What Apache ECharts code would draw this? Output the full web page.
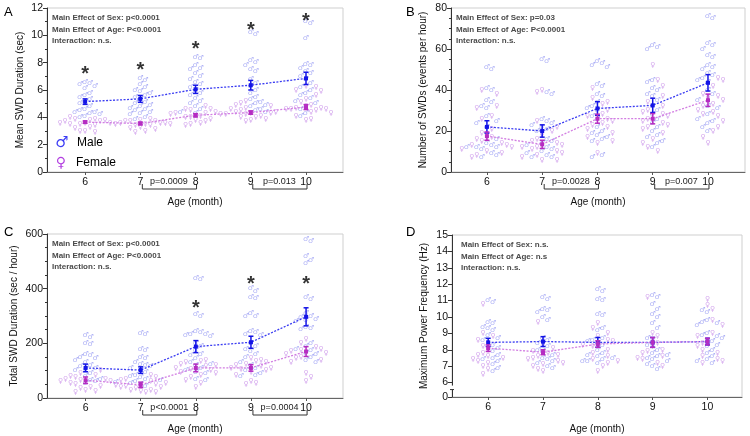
<!DOCTYPE html>
<html><head><meta charset="utf-8">
<script src="https://cdn.jsdelivr.net/npm/echarts@6/dist/echarts.min.js"></script>
<style>html,body{margin:0;padding:0;background:#fff}#c{width:750px;height:436px}</style>
</head><body><div id="c"></div>
<script>
const ages = [6, 7, 8, 9, 10];
const xLabel = 'Age (month)';

// ---------- Panel A: Mean SWD Duration ----------
const A_name = 'Mean SWD Duration (sec)';
const A_stats = ['Main Effect of Sex: p<0.0001', 'Main Effect of Age: P<0.0001', 'Interaction: n.s.'];
const A_maleMean = [5.15, 5.35, 6.05, 6.35, 6.85];
const A_maleSem = [0.2, 0.25, 0.3, 0.35, 0.45];
const A_femMean = [3.65, 3.55, 4.15, 4.35, 4.75];
const A_femSem = [0.08, 0.1, 0.12, 0.12, 0.18];
const A_malePts = [
  [6.6, 6.5, 6.4, 6.3, 6.1, 5.8, 5.6, 5.5, 5.3, 5.1, 5.0, 4.8, 4.6, 4.5, 4.4, 4.3, 4.2, 4.4, 4.1, 4.0],
  [6.9, 6.7, 6.4, 6.2, 6.0, 5.9, 5.8, 5.6, 5.5, 5.3, 5.1, 5.0, 4.9, 4.8, 4.7, 4.6, 4.5, 4.4, 4.3, 4.2, 4.0, 3.9],
  [8.4, 8.3, 7.8, 7.6, 7.5, 7.2, 7.0, 6.8, 6.6, 6.4, 6.2, 6.0, 5.8, 5.6, 5.4, 5.2, 5.0, 4.8, 4.6, 4.4, 4.3],
  [10.2, 10.1, 8.2, 8.0, 7.8, 7.5, 7.4, 6.8, 6.5, 6.3, 6.0, 5.8, 5.5, 5.3, 5.1, 5.0, 4.9, 4.8, 4.6, 4.5, 4.4],
  [11.0, 10.9, 9.8, 7.9, 7.8, 7.6, 7.4, 7.2, 7.0, 6.8, 6.5, 6.2, 6.0, 5.8, 5.6, 5.4, 5.2, 5.0, 4.6, 4.3, 4.1]
];
const A_femPts = [
  [4.0, 3.9, 3.8, 3.7, 3.7, 3.6, 3.6, 3.5, 3.5, 3.4, 3.3, 3.2, 3.0, 3.0, 2.9, 3.8, 3.6, 3.9],
  [3.9, 3.8, 3.7, 3.7, 3.6, 3.6, 3.5, 3.5, 3.4, 3.4, 3.3, 3.2, 3.1, 3.0, 2.9, 3.6, 3.7, 3.5],
  [4.8, 4.6, 4.5, 4.4, 4.3, 4.2, 4.2, 4.1, 4.0, 4.0, 3.9, 3.8, 3.7, 3.6, 3.5, 3.4, 4.3, 4.6],
  [5.2, 5.0, 4.9, 4.8, 4.7, 4.6, 4.5, 4.4, 4.3, 4.2, 4.2, 4.1, 4.0, 4.0, 3.9, 3.8, 3.7, 4.3, 4.4],
  [6.3, 6.2, 6.0, 5.9, 5.6, 5.3, 5.1, 4.9, 4.8, 4.7, 4.6, 4.6, 4.5, 4.4, 4.3, 4.1, 3.9, 3.8, 4.7, 4.6]
];
const A_sigAges = [6, 7, 8, 9, 10];
const A_sigY = [7.5, 7.8, 9.3, 10.7, 11.4];
const A_brackets = [[7, 8, 'p=0.0009'], [9, 10, 'p=0.013']];

// ---------- Panel B: Number of SWDs ----------
const B_name = 'Number of SWDs (events per hour)';
const B_stats = ['Main Effect of Sex: p=0.03', 'Main Effect of Age: P<0.0001', 'Interaction: n.s.'];
const B_maleMean = [22, 20, 31, 32.5, 43.5];
const B_maleSem = [3, 3, 3.3, 3.5, 4];
const B_femMean = [17.5, 13.5, 26, 26, 35];
const B_femSem = [2, 2, 2.2, 2.5, 3];
const B_malePts = [
  [51, 50, 41, 40, 35, 34, 32, 31, 27, 25, 24, 22, 16, 14, 13, 12, 12, 12, 11, 9, 8, 7],
  [55, 54, 39, 38, 26, 25, 24, 23, 22, 21, 20, 16, 15, 14, 13, 12, 11, 10, 9, 8, 7, 7],
  [54, 53, 52, 51, 43, 42, 38, 37, 34, 32, 31, 30, 27, 26, 22, 20, 19, 18, 17, 16, 15, 8, 7],
  [62, 61, 60, 45, 44, 41, 40, 38, 37, 35, 32, 30, 28, 26, 24, 22, 20, 18, 17, 15, 14, 12],
  [76, 75, 63, 62, 60, 57, 56, 52, 51, 50, 48, 47, 46, 45, 44, 40, 38, 35, 32, 31, 28, 26, 25, 24, 22, 20]
];
const B_femPts = [
  [40, 38, 32, 31, 27, 26, 21, 19, 18, 17, 16, 15, 14, 13, 13, 12, 11, 10, 9, 8, 7],
  [40, 39, 25, 22, 20, 18, 16, 15, 14, 13, 12, 12, 11, 10, 9, 8, 7, 6, 6],
  [41, 36, 34, 33, 30, 28, 27, 26, 25, 24, 23, 22, 21, 19, 17, 15, 14, 9],
  [52, 45, 42, 37, 34, 32, 30, 29, 28, 27, 26, 25, 24, 23, 22, 21, 19, 16, 14, 12, 10],
  [46, 45, 42, 38, 37, 36, 35, 33, 32, 30, 29, 28, 27, 25, 22, 20, 17, 14]
];
const B_sigAges = [];
const B_sigY = [];
const B_brackets = [[7, 8, 'p=0.0028'], [9, 10, 'p=0.007']];

// ---------- Panel C: Total SWD Duration ----------
const C_name = 'Total SWD Duration (sec / hour)';
const C_stats = ['Main Effect of Sex: p<0.0001', 'Main Effect of Age: P<0.0001', 'Interaction: n.s.'];
const C_maleMean = [110, 102, 188, 204, 297];
const C_maleSem = [14, 12, 22, 22, 33];
const C_femMean = [65, 48, 110, 110, 170];
const C_femSem = [12, 10, 14, 12, 18];
const C_malePts = [
  [228, 222, 200, 196, 160, 155, 150, 145, 140, 130, 120, 115, 110, 105, 100, 90, 80, 70, 65, 60, 58, 55],
  [238, 232, 180, 175, 150, 145, 130, 125, 120, 115, 110, 100, 95, 85, 80, 75, 70, 65, 60, 55, 50, 45],
  [440, 435, 305, 300, 245, 240, 235, 232, 230, 225, 200, 190, 175, 160, 155, 145, 130, 125, 120, 110, 100, 95, 90, 70, 65],
  [400, 390, 370, 365, 310, 300, 298, 245, 240, 235, 230, 200, 190, 180, 170, 160, 150, 130, 120, 110, 100, 90, 85, 80],
  [580, 575, 520, 505, 495, 370, 360, 310, 300, 295, 290, 285, 280, 260, 255, 250, 200, 190, 180, 175, 165, 160, 150, 140, 130]
];
const C_femPts = [
  [100, 90, 85, 80, 75, 70, 68, 65, 62, 60, 55, 50, 45, 40, 35, 30, 25, 22],
  [85, 75, 70, 65, 60, 55, 50, 48, 45, 40, 38, 35, 30, 28, 25, 22, 20],
  [140, 135, 130, 125, 120, 115, 110, 105, 100, 95, 90, 85, 75, 65, 55, 40],
  [145, 140, 135, 130, 125, 120, 115, 110, 108, 105, 100, 95, 85, 60, 55, 50],
  [215, 200, 185, 180, 175, 170, 165, 160, 150, 145, 140, 130, 90, 75, 60]
];
const C_sigAges = [8, 9, 10];
const C_sigY = [344, 432, 432];
const C_brackets = [[7, 8, 'p<0.0001'], [9, 10, 'p=0.0004']];

// ---------- Panel D: Maximum Power Frequency ----------
const D_name = 'Maximum Power Frequency (Hz)';
const D_stats = ['Main Effect of Sex: n.s.', 'Main Effect of Age: n.s', 'Interaction: n.s.'];
const D_maleMean = [8.45, 8.5, 8.45, 8.45, 8.5];
const D_maleSem = [0.25, 0.3, 0.3, 0.3, 0.2];
const D_femMean = [8.1, 7.85, 8.35, 8.45, 8.5];
const D_femSem = [0.2, 0.15, 0.2, 0.3, 0.2];
const D_malePts = [
  [11.0, 10.9, 9.7, 9.6, 9.4, 9.3, 9.2, 8.9, 8.7, 8.6, 8.3, 8.1, 7.9, 7.7, 7.5, 7.4, 7.3, 7.1, 6.9, 6.7],
  [11.2, 11.1, 10.5, 10.4, 10.3, 10.0, 9.8, 8.7, 8.6, 8.4, 8.2, 8.0, 7.9, 7.7, 7.5, 7.4, 7.3, 7.2, 7.0, 6.9],
  [11.7, 11.6, 11.1, 11.0, 10.2, 10.1, 9.3, 9.2, 8.7, 8.6, 8.5, 8.4, 8.3, 8.0, 7.8, 7.7, 7.6, 7.5, 7.4, 7.3, 7.2, 7.3],
  [11.3, 11.2, 10.8, 10.5, 10.2, 10.0, 9.6, 9.3, 8.7, 8.3, 8.0, 7.8, 7.7, 7.6, 7.5, 7.4, 7.3, 7.1, 7.0, 6.8],
  [10.4, 10.3, 9.8, 9.7, 9.6, 9.5, 9.0, 8.9, 8.8, 8.7, 8.5, 8.3, 8.2, 8.0, 7.8, 7.6, 7.4, 7.3, 7.2]
];
const D_femPts = [
  [10.8, 9.0, 8.8, 8.6, 8.4, 8.2, 8.0, 7.8, 7.7, 7.6, 7.5, 7.4, 7.3, 7.2, 7.0, 6.8, 6.5],
  [9.7, 8.3, 8.1, 7.9, 7.8, 7.7, 7.6, 7.5, 7.4, 7.3, 7.2, 7.1, 7.0, 6.8, 6.7],
  [9.6, 9.3, 9.0, 8.8, 8.6, 8.5, 8.3, 8.2, 8.0, 7.8, 7.6, 7.4, 7.3, 7.2, 7.0, 6.7],
  [11.2, 9.0, 8.8, 8.6, 8.4, 8.2, 8.0, 7.9, 7.8, 7.6, 7.5, 7.4, 7.2, 7.0],
  [11.1, 10.7, 10.5, 9.8, 9.5, 9.0, 8.8, 8.6, 8.4, 8.2, 8.0, 7.8, 7.6, 7.4, 7.3, 7.2]
];
const D_sigAges = [];
const D_sigY = [];
const D_brackets = [];
const D_yLabels = [0, 6, 7, 8, 9, 10, 11, 12, 13, 14, 15];

// ---------- styling ----------
const MALE_PT = '#9599f2', FEM_PT = '#cb94ea';
const MALE_LINE = '#3a3cf2', FEM_LINE = '#d27ee2';
const MALE_ERR = '#1414e6', FEM_ERR = '#b52cc2';
const FONT = 'Liberation Sans, Arial, Helvetica, sans-serif';

const panels = [
  {letter: 'A', lx: 4, ly: 6, grid: {left: 47, top: 8, width: 296, height: 164}, xMin: 5.31, xMax: 10.67, yMin: 0, yMax: 12, yInt: 2, minor: 2, yGap: 22,
   name: A_name, stats: A_stats, mm: A_maleMean, ms: A_maleSem, fm: A_femMean, fs: A_femSem, mp: A_malePts, fp: A_femPts, sa: A_sigAges, sy: A_sigY, br: A_brackets, xGap: 25},
  {letter: 'B', lx: 406, ly: 6, grid: {left: 451, top: 8, width: 294, height: 164}, xMin: 5.35, xMax: 10.67, yMin: 0, yMax: 80, yInt: 20, minor: 4, yGap: 23,
   name: B_name, stats: B_stats, mm: B_maleMean, ms: B_maleSem, fm: B_femMean, fs: B_femSem, mp: B_malePts, fp: B_femPts, sa: B_sigAges, sy: B_sigY, br: B_brackets, xGap: 25},
  {letter: 'C', lx: 4, ly: 226, grid: {left: 47, top: 234, width: 296, height: 164}, xMin: 5.3, xMax: 10.67, yMin: 0, yMax: 600, yInt: 200, minor: 4, yGap: 28,
   name: C_name, stats: C_stats, mm: C_maleMean, ms: C_maleSem, fm: C_femMean, fs: C_femSem, mp: C_malePts, fp: C_femPts, sa: C_sigAges, sy: C_sigY, br: C_brackets, xGap: 26},
  {letter: 'D', lx: 406, ly: 226, grid: {left: 452, top: 235, width: 290, height: 162}, xMin: 5.34, xMax: 10.63, yMin: 5.12, yMax: 15, yInt: null, minor: 0, yGap: 23,
   name: D_name, stats: D_stats, mm: D_maleMean, ms: D_maleSem, fm: D_femMean, fs: D_femSem, mp: D_malePts, fp: D_femPts, sa: D_sigAges, sy: D_sigY, br: D_brackets, xGap: 27}
];

// beeswarm placement of individual animals around each age
function swarm(p) {
  const pxX = p.grid.width / (p.xMax - p.xMin);
  const pxY = p.grid.height / (p.yMax - p.yMin);
  const CW = 5, CH = 6.5;
  const m = [], f = [];
  ages.forEach((a, i) => {
    const items = p.mp[i].map(v => ({v, s: 0})).concat(p.fp[i].map(v => ({v, s: 1})));
    items.sort((q, r) => r.v - q.v);
    const placed = [];
    items.forEach(it => {
      const y = it.v * pxY;
      let off = 0;
      for (let k = 0; k < 60; k++) {
        off = k === 0 ? 0 : (k % 2 ? 1 : -1) * Math.ceil(k / 2) * CW;
        if (!placed.some(q => Math.abs(q.x - off) < CW * 0.99 && Math.abs(q.y - y) < CH)) break;
      }
      placed.push({x: off, y});
      (it.s ? f : m).push([a + off / pxX, it.v]);
    });
  });
  return {m, f};
}

function errRender(color) {
  return function (params, api) {
    const x = api.value(0), mean = api.value(1), s = api.value(2);
    const t = api.coord([x, mean + s]), b = api.coord([x, mean - s]), c = api.coord([x, mean]);
    const w = 2.5;
    const st = {stroke: color, lineWidth: 1.5};
    return {type: 'group', children: [
      {type: 'line', shape: {x1: t[0], y1: t[1], x2: b[0], y2: b[1]}, style: st},
      {type: 'line', shape: {x1: t[0] - w, y1: t[1], x2: t[0] + w, y2: t[1]}, style: st},
      {type: 'line', shape: {x1: b[0] - w, y1: b[1], x2: b[0] + w, y2: b[1]}, style: st},
      {type: 'rect', shape: {x: c[0] - 2, y: c[1] - 2, width: 4, height: 4}, style: {fill: color}}
    ]};
  };
}

const grids = [], xAxes = [], yAxes = [], series = [];
panels.forEach((p, i) => {
  grids.push(Object.assign({show: true, borderColor: '#cfcfcf', borderWidth: 1, backgroundColor: 'transparent'}, p.grid));
  xAxes.push({
    type: 'value', gridIndex: i, min: p.xMin, max: p.xMax,
    axisLine: {show: true, onZero: false, lineStyle: {color: '#666', width: 1}},
    axisTick: {show: true, customValues: ages, length: 3, lineStyle: {color: '#555'}},
    axisLabel: {customValues: ages, color: '#111', fontSize: 10.5, fontFamily: FONT, margin: 5},
    splitLine: {show: false},
    name: xLabel, nameLocation: 'middle', nameGap: p.xGap,
    nameTextStyle: {fontSize: 10, color: '#111', fontFamily: FONT}
  });
  const y = {
    type: 'value', gridIndex: i, min: p.yMin, max: p.yMax,
    axisLine: {show: true, onZero: false, lineStyle: {color: '#333', width: 1}},
    axisTick: {show: true, length: 4, lineStyle: {color: '#333'}},
    axisLabel: {color: '#111', fontSize: 10.5, fontFamily: FONT, margin: 4},
    splitLine: {show: false},
    name: p.name, nameLocation: 'middle', nameGap: p.yGap,
    nameTextStyle: {fontSize: 10, color: '#111', fontFamily: FONT}
  };
  if (p.yInt) {
    y.interval = p.yInt;
    y.minorTick = {show: true, splitNumber: p.minor, length: 2, lineStyle: {color: '#333'}};
  } else {
    const vals = D_yLabels.map(v => v === 0 ? p.yMin : v);
    y.axisLabel.customValues = vals;
    y.axisTick.customValues = vals;
    y.axisLabel.formatter = v => (v < 5.5 ? '0' : String(Math.round(v)));
  }
  yAxes.push(y);

  const sw = swarm(p);
  const ptLabel = (txt, col) => ({show: true, position: 'inside', formatter: txt, color: col, fontSize: 7, fontFamily: 'DejaVu Sans'});
  series.push({type: 'scatter', xAxisIndex: i, yAxisIndex: i, data: sw.m, symbolSize: 2, itemStyle: {color: 'rgba(0,0,0,0)'}, label: ptLabel('♂', MALE_PT), z: 2, silent: true});
  series.push({type: 'scatter', xAxisIndex: i, yAxisIndex: i, data: sw.f, symbolSize: 2, itemStyle: {color: 'rgba(0,0,0,0)'}, label: ptLabel('♀', FEM_PT), z: 2, silent: true});
  series.push({type: 'line', xAxisIndex: i, yAxisIndex: i, data: ages.map((a, j) => [a, p.mm[j]]), symbol: 'none', lineStyle: {color: MALE_LINE, width: 1.3, type: [2, 1.5]}, z: 3});
  series.push({type: 'line', xAxisIndex: i, yAxisIndex: i, data: ages.map((a, j) => [a, p.fm[j]]), symbol: 'none', lineStyle: {color: FEM_LINE, width: 1.3, type: [2, 1.5]}, z: 3});
  series.push({type: 'custom', xAxisIndex: i, yAxisIndex: i, data: ages.map((a, j) => [a, p.mm[j], p.ms[j]]), renderItem: errRender(MALE_ERR), encode: {x: 0, y: 1}, z: 5});
  series.push({type: 'custom', xAxisIndex: i, yAxisIndex: i, data: ages.map((a, j) => [a, p.fm[j], p.fs[j]]), renderItem: errRender(FEM_ERR), encode: {x: 0, y: 1}, z: 5});
  if (p.sa.length) {
    series.push({type: 'scatter', xAxisIndex: i, yAxisIndex: i, data: p.sa.map((a, j) => [a, p.sy[j]]), symbolSize: 2, itemStyle: {color: 'rgba(0,0,0,0)'},
      label: {show: true, position: 'inside', formatter: '*', color: '#000', fontSize: 20, fontWeight: 'bold', fontFamily: FONT, offset: [0, 5]}, z: 6, silent: true});
  }
});

const chart = echarts.init(document.getElementById('c'));
chart.setOption({animation: false, backgroundColor: '#fff', grid: grids, xAxis: xAxes, yAxis: yAxes, series});

// annotations positioned through the axes
const g = [];
panels.forEach((p, i) => {
  g.push({type: 'text', left: p.lx, top: p.ly, style: {text: p.letter, font: '13px ' + FONT, fill: '#000'}});
  p.stats.forEach((s, k) => {
    g.push({type: 'text', x: p.grid.left + (i === 3 ? 9 : 5), y: p.grid.top + 6 + k * 11.3,
      style: {text: s, font: 'bold 8px ' + FONT, fill: '#4a4a4a'}});
  });
  const bottom = p.grid.top + p.grid.height;
  p.br.forEach(b => {
    const x1 = chart.convertToPixel({gridIndex: i}, [b[0], p.yMin])[0];
    const x2 = chart.convertToPixel({gridIndex: i}, [b[1], p.yMin])[0];
    const yb = bottom + 17;
    const st = {stroke: '#333', lineWidth: 1};
    g.push({type: 'polyline', shape: {points: [[x1 + 2, yb - 5], [x1 + 2, yb], [x2 + 1, yb], [x2 + 1, yb - 5]]}, style: Object.assign({fill: null}, st)});
    g.push({type: 'text', x: (x1 + x2) / 2 + 1, y: bottom + 10, style: {text: b[2], font: '9px ' + FONT, fill: '#222', align: 'center', verticalAlign: 'middle'}});
  });
});
// legend in panel A
g.push({type: 'text', x: 62, y: 143, style: {text: '♂', font: '15px DejaVu Sans', fill: '#3d3df5', align: 'center', verticalAlign: 'middle'}});
g.push({type: 'text', x: 77, y: 143, style: {text: 'Male', font: '12px ' + FONT, fill: '#000', verticalAlign: 'middle'}});
g.push({type: 'text', x: 61, y: 163, style: {text: '♀', font: '14px DejaVu Sans', fill: '#b23fe0', align: 'center', verticalAlign: 'middle'}});
g.push({type: 'text', x: 76, y: 163, style: {text: 'Female', font: '12px ' + FONT, fill: '#000', verticalAlign: 'middle'}});
// axis break mark on panel D
const dAx = panels[3].grid.left;
const y6 = chart.convertToPixel({gridIndex: 3}, [6, 6])[1];
g.push({type: 'rect', shape: {x: dAx - 2, y: y6 + 3, width: 4, height: 4}, style: {fill: '#fff'}, z: 100});
g.push({type: 'line', shape: {x1: dAx - 2, y1: y6 + 7, x2: dAx + 2, y2: y6 + 7}, style: {stroke: '#333', lineWidth: 1}, z: 101});
chart.setOption({graphic: g});
</script>
</body></html>
